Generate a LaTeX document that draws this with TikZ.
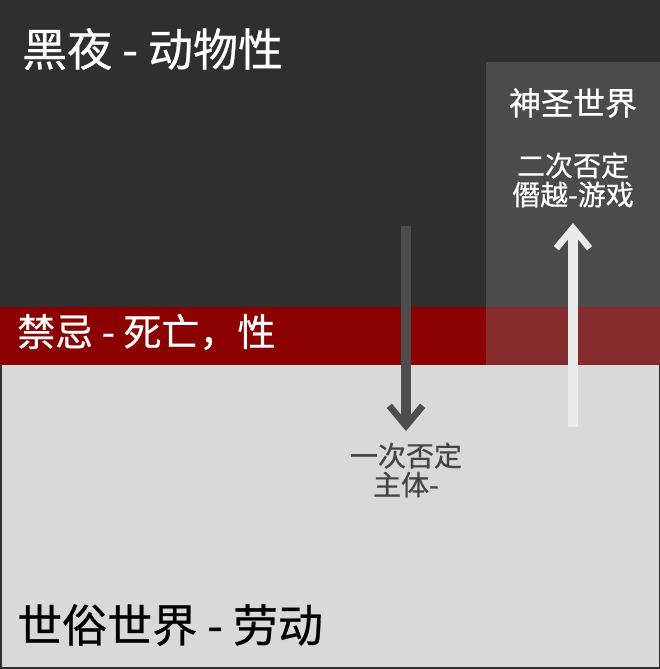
\documentclass[tikz,border=0pt]{standalone}
\usepackage{fontspec}
\setmainfont{Noto Sans CJK SC}[FakeBold=0.6]
\usepackage{tikz}
\usetikzlibrary{arrows.meta,positioning}
\definecolor{nacht}{HTML}{2F2F2F}
\definecolor{tabu}{HTML}{8B0000}
\definecolor{welt}{HTML}{D9D9D9}
\definecolor{heilig}{HTML}{808080}
\definecolor{pfeildunkel}{HTML}{4D4D4D}
\definecolor{pfeilhell}{HTML}{EBEBEB}
\definecolor{schrift}{HTML}{444444}
\tikzset{
    % Define style for big titles
    titel/.style={
           anchor=west,
           inner sep=0pt,
           text=white,
           font=\fontsize{33.75}{40}\selectfont},
    % Define style for the band text
    bandtext/.style={
           anchor=west,
           inner sep=0pt,
           text=white,
           font=\fontsize{28.5}{34}\selectfont},
    % Define style for small labels
    etikett/.style={
           inner sep=0pt,
           align=center,
           text=white,
           font=\fontsize{21}{21.75}\selectfont},
    % Define arrow style
    pil/.style={
           -{Straight Barb[length=15pt,width=25pt,line width=5pt]},
           line width=8pt}
}

\begin{document}
\begin{tikzpicture}[x=0.75pt,y=-0.75pt]
  \useasboundingbox (0,0) rectangle (660,669);
  % areas
  \fill[nacht] (0,0) rectangle (660,669);
  \fill[welt] (2,365) rectangle (658.5,667);
  \fill[tabu] (0,307) rectangle (660,365);
  \fill[heilig, opacity=0.35] (486,62) rectangle (660,365);
  % texts
  \node[titel] (nacht) at (22,49) {黑夜 - 动物性};
  \node[bandtext] (verbot) at (17,332) {禁忌 - 死亡，性};
  \node[titel, text=black] (profan) at (17,625) {世俗世界 - 劳动};
  \node[etikett, font=\fontsize{24}{28}\selectfont] (sakral) at (573,103) {神圣世界};
  \node[etikett] (zweite) at (573,180) {二次否定\\僭越-游戏};
  \node[etikett, text=schrift] (erste) at (406,470) {一次否定\\主体-};
  % arrows
  \coordinate (d1) at (406,226);
  \coordinate (d2) at (406,431);
  \coordinate (u1) at (573,427);
  \coordinate (u2) at (573,223);
  \draw[pil, pfeildunkel] (d1) -- (d2);
  \draw[pil, pfeilhell] (u1) -- (u2);
\end{tikzpicture}
\end{document}
